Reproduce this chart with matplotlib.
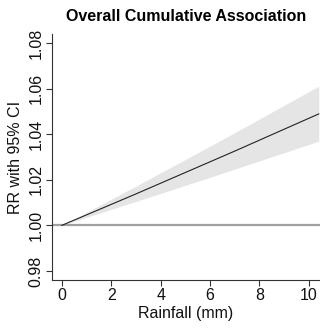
import matplotlib
matplotlib.use("Agg")
import matplotlib.pyplot as plt

# Cumulative rainfall–response curve with 95% confidence band
rainfall_mm = [0, 1, 2, 3, 4, 5, 6, 7, 8, 9, 10, 10.4]
rr = [1.0000, 1.0046, 1.0092, 1.0138, 1.0185, 1.0232, 1.0279, 1.0326, 1.0374, 1.0422, 1.0470, 1.0489]
rr_low = [1.0000, 1.0035, 1.0070, 1.0105, 1.0140, 1.0176, 1.0211, 1.0247, 1.0283, 1.0319, 1.0355, 1.0370]
rr_high = [1.0000, 1.0057, 1.0115, 1.0172, 1.0231, 1.0289, 1.0348, 1.0407, 1.0467, 1.0527, 1.0587, 1.0611]

x_ticks = [0, 2, 4, 6, 8, 10]
y_ticks = [0.98, 1.00, 1.02, 1.04, 1.06, 1.08]
y_tick_labels = ["0.98", "1.00", "1.02", "1.04", "1.06", "1.08"]

plt.rcParams["font.family"] = ["Liberation Sans", "DejaVu Sans"]

fig = plt.figure(figsize=(3.2, 3.3), dpi=100)
ax = fig.add_axes([52 / 320, 1 - 280 / 330, 268 / 320, (280 - 34) / 330])

ax.fill_between(rainfall_mm, rr_low, rr_high, color="#e5e5e5", linewidth=0)
ax.axhline(1.0, color="#a0a0a0", linewidth=1.6, zorder=2)
ax.plot(rainfall_mm, rr, color="#222222", linewidth=0.8, zorder=3)

ax.set_xlim(-0.4, 10.45)
ax.set_ylim(0.976, 1.084)
ax.set_xticks(x_ticks)
ax.set_yticks(y_ticks)
ax.set_yticklabels(y_tick_labels, rotation=90, va="center")

for side in ("top", "right"):
    ax.spines[side].set_visible(False)
for side in ("left", "bottom"):
    ax.spines[side].set_color("#333333")
    ax.spines[side].set_linewidth(0.8)

ax.tick_params(axis="both", length=4, width=0.8, color="#333333",
               labelsize=11.5, labelcolor="#111111", pad=2)

ax.set_xlabel("Rainfall (mm)", fontsize=11.5, color="#111111", labelpad=2)
ax.set_ylabel("RR with 95% CI", fontsize=11.5, color="#111111", labelpad=4)
ax.set_title("Overall Cumulative Association", fontsize=11.5, fontweight="bold", pad=9.5)

fig.savefig("out.png", dpi=100)
